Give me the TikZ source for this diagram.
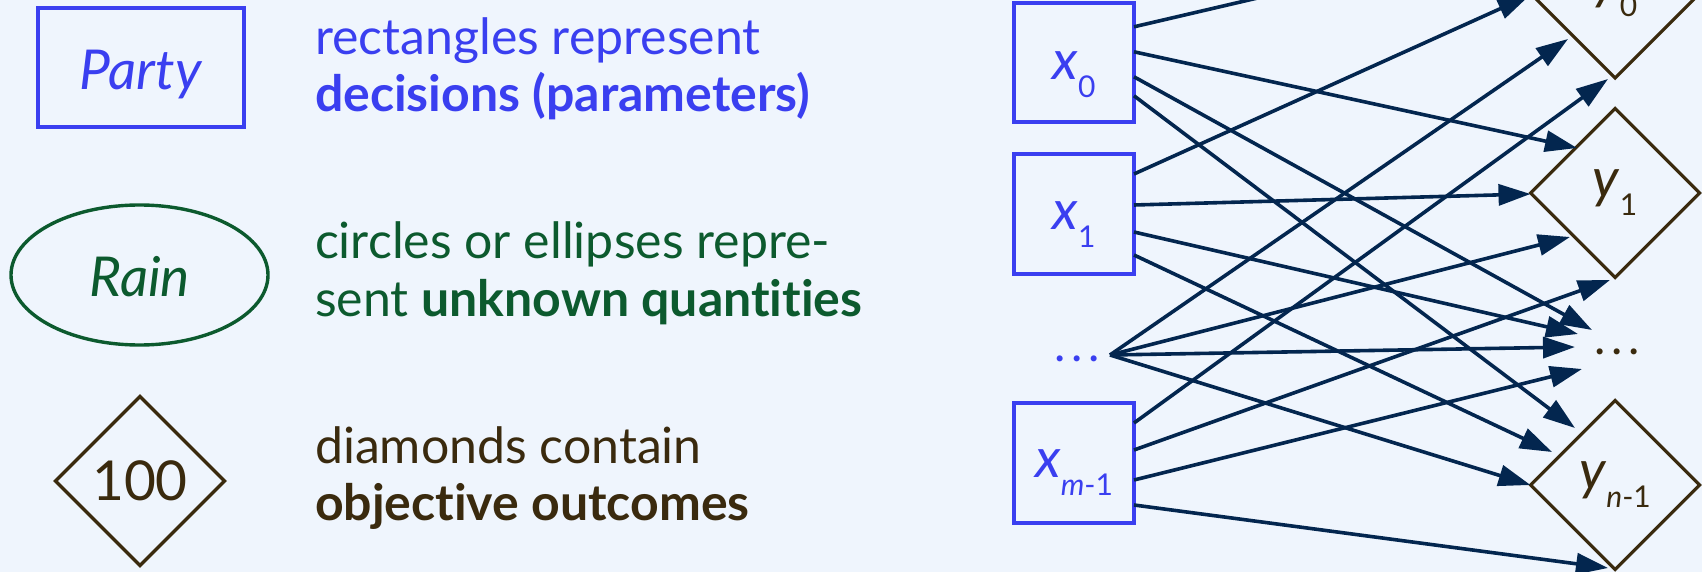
\documentclass[tikz,border=0pt]{standalone}
\usepackage{fontspec}
\setmainfont{Lato}[Ligatures=NoCommon]
\usetikzlibrary{shapes.geometric,arrows.meta,calc}
\definecolor{bg}{HTML}{EFF5FD}
\definecolor{dblue}{HTML}{3A3FF0}
\definecolor{dgreen}{HTML}{0C5A2E}
\definecolor{dbrown}{HTML}{3A2A0E}
\definecolor{navy}{HTML}{03264F}
\newcommand{\lbl}[2]{\textit{#1}\raisebox{-9pt}{\fontsize{15}{15}\selectfont #2}}
\newcommand{\mydots}{.\kern3pt.\kern3pt.}
\begin{document}
\begin{tikzpicture}[x=0.5pt,y=-0.5pt,
  legtext/.style={anchor=base west, inner sep=0pt, outer sep=0pt, font=\fontsize{25}{25}\selectfont},
  bignum/.style={font=\fontsize{27.5}{27.5}\selectfont},
  declbox/.style={draw=dblue, line width=1.9pt, inner sep=0pt, outer sep=0pt, text=dblue, bignum, text depth=0pt},
  unkell/.style={ellipse, draw=dgreen, line width=1.7pt, inner sep=0pt, outer sep=0pt, text=dgreen, bignum, minimum width=128.5pt, minimum height=70pt, text height=21pt, text depth=0pt},
  outdia/.style={diamond, aspect=1, draw=dbrown, line width=1.6pt, inner sep=0pt, outer sep=0pt, text=dbrown, bignum, minimum width=84.5pt, minimum height=84.5pt},
  dotsnode/.style={anchor=base, inner sep=0pt, outer sep=0pt, font=\fontsize{24}{24}\selectfont},
  arr/.style={draw=navy, line width=1.8pt, -{Triangle[length=16pt,width=10.5pt]}}
]
\fill[bg] (0,0) rectangle (1702,572);
\useasboundingbox (0,0) rectangle (1702,572);
\clip (0,0) rectangle (1702,572);

% legend
\node[declbox, minimum width=103pt, minimum height=59.5pt, text height=21.5pt] (party) at (141,67.8) {\textit{Party}};
\node[unkell] (rain) at (139.5,275) {\textit{Rain}};
\node[outdia] (hundred) at (140,481) {100};

\node[legtext, text=dblue] (t1a) at (315,55) {rectangles represent};
\node[legtext, text=dblue] (t1b) at (315,111.5) {\textbf{decisions (parameters)}};
\node[legtext, text=dgreen] (t2a) at (315,258.5) {circles or ellipses repre-};
\node[legtext, text=dgreen] (t2b) at (315,316.5) {sent \textbf{unknown quantities}};
\node[legtext, text=dbrown] (t3a) at (315,463) {diamonds contain};
\node[legtext, text=dbrown] (t3b) at (315,520) {\textbf{objective outcomes}};

% network
\node[declbox, minimum width=60pt, minimum height=59.5pt, text height=17.5pt] (x0) at (1074,62.3) {\lbl{x}{0}};
\node[declbox, minimum width=60pt, minimum height=60pt, text height=16pt] (x1) at (1074,214) {\lbl{x}{1}};
\node[dotsnode, text=dblue] (xd) at (1077,361) {\mydots};
\node[declbox, minimum width=60pt, minimum height=60pt, text height=14.5pt] (xm) at (1074,463) {\lbl{x}{\textit{m}-1}};

\node[outdia] (y0) at (1615,-6.5) {\lbl{y}{0}};
\node[outdia] (y1) at (1615,193) {\lbl{y}{1}};
\node[dotsnode, text=dbrown] (yd) at (1617,354) {\mydots};
\node[outdia] (yn) at (1615,485) {\lbl{y}{\textit{n}-1}};

\coordinate (xds) at (1110,355);
\coordinate (ydc) at (1617,349);

% from x0
\draw[arr] ($(x0.north east)+(0,24)$) -- ($(y0)+(-8,-77)$);
\draw[arr] ($(x0.north east)+(0,49)$) -- ($(y1)+(-38,-45)$);
\draw[arr] ($(x0.north east)+(0,74)$) -- ($(ydc)+(-25,-19)$);
\draw[arr] ($(x0.north east)+(0,93)$) -- ($(yn)+(-40,-57)$);
% from x1
\draw[arr] ($(x1.north east)+(0,20)$) -- ($(y0.west)+(-1,2)$);
\draw[arr] ($(x1.north east)+(0,51)$) -- ($(y1.west)+(0,1)$);
\draw[arr] ($(x1.north east)+(0,78)$) -- ($(ydc)+(-39,-15)$);
\draw[arr] ($(x1.north east)+(0,101)$) -- ($(yn)+(-63,-33)$);
% from dots
\draw[arr] (xds) -- ($(y0)+(-47,45.5)$);
\draw[arr] (xds) -- ($(y1)+(-45,44)$);
\draw[arr] (xds) -- ($(ydc)+(-42,-2)$);
\draw[arr] (xds) -- (yn.west);
% from xm
\draw[arr] ($(xm.north east)+(0,20)$) -- ($(y0)+(-7,85.5)$);
\draw[arr] ($(xm.north east)+(0,47)$) -- ($(y1)+(-5,87)$);
\draw[arr] ($(xm.north east)+(0,77)$) -- ($(ydc)+(-35,20)$);
\draw[arr] ($(xm.north east)+(0,102)$) -- ($(yn)+(-7,83)$);
\end{tikzpicture}
\end{document}
